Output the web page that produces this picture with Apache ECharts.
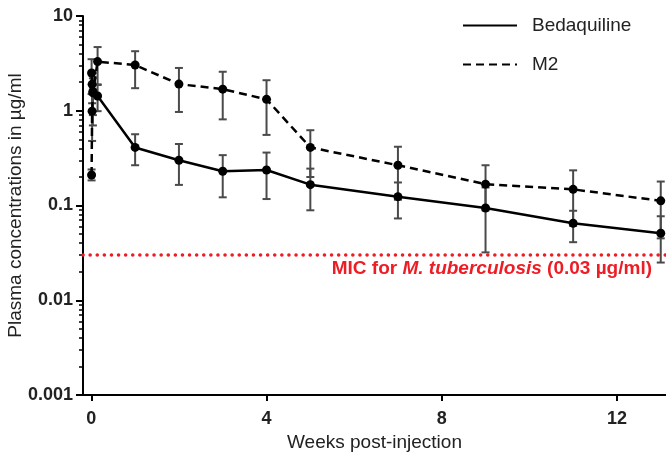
<!DOCTYPE html>
<html>
<head>
<meta charset="utf-8">
<script src="https://cdn.jsdelivr.net/npm/echarts@6/dist/echarts.min.js"></script>
<style>
html, body { margin: 0; padding: 0; background: #fff; }
#main { width: 666px; height: 456px; }
</style>
</head>
<body>
<div id="main"></div>
<script>
// sampling times in weeks (early points are hours after injection)
const weeks = [0.006, 0.018, 0.036, 0.143, 1, 2, 3, 4, 5, 7, 9, 11, 13];

const bedaquiline = [2.5, 1.9, 1.6, 1.43, 0.41, 0.30, 0.23, 0.237, 0.166, 0.124, 0.094, 0.065, 0.051];
const bedLow = [1.5, 1.2, 0.7, 0.99, 0.266, 0.165, 0.122, 0.117, 0.089, 0.073, 0.032, 0.041, 0.025];
const bedHigh = [3.5, 2.6, 2.5, 1.87, 0.565, 0.446, 0.34, 0.362, 0.245, 0.175, 0.155, 0.088, 0.077];

const m2 = [0.21, 0.99, 1.55, 3.3, 3.04, 1.91, 1.69, 1.32, 0.41, 0.266, 0.168, 0.148, 0.112];
const m2Low = [0.184, 0.48, 0.9, 1.9, 1.73, 0.971, 0.811, 0.556, 0.20, 0.115, 0.089, 0.061, 0.045];
const m2High = [0.24, 1.5, 2.2, 4.7, 4.25, 2.83, 2.58, 2.10, 0.623, 0.417, 0.266, 0.235, 0.179];

const xTicks = [0, 4, 8, 12];
const yMinorTicks = [];
[0.001, 0.01, 0.1, 1].forEach(d => {
	for (let k = 2; k <= 9; k++) yMinorTicks.push(+(k * d).toPrecision(3));
});
const micValue = 0.03;

const font = "Arial, 'Liberation Sans', Helvetica, sans-serif";

function toPairs(xs, ys) {
	return xs.map((x, i) => [x, ys[i]]);
}
function toBars(xs, lo, hi) {
	return xs.map((x, i) => [x, lo[i], hi[i]]);
}

function renderErrorBar(params, api) {
	const x = api.value(0);
	const lo = api.coord([x, api.value(1)]);
	const hi = api.coord([x, api.value(2)]);
	const w = 4;
	const style = { stroke: '#4a4a4a', lineWidth: 2, fill: null };
	return {
		type: 'group',
		children: [
			{ type: 'line', shape: { x1: lo[0], y1: lo[1], x2: hi[0], y2: hi[1] }, style: style },
			{ type: 'line', shape: { x1: lo[0] - w, y1: lo[1], x2: lo[0] + w, y2: lo[1] }, style: style },
			{ type: 'line', shape: { x1: hi[0] - w, y1: hi[1], x2: hi[0] + w, y2: hi[1] }, style: style }
		]
	};
}

var myChart = echarts.init(document.querySelector("#main"));

var option = {
	animation: false,
	textStyle: { fontFamily: font },
	grid: { left: 83, right: 0, top: 16, bottom: 61, outerBoundsMode: 'none', containLabel: false },
	legend: {
		orient: 'vertical',
		left: 457,
		top: 11,
		itemWidth: 54,
		itemHeight: 16,
		itemGap: 20,
		itemStyle: { opacity: 0 },
		textStyle: { fontSize: 19, color: '#222', padding: [0, 0, 0, 10], fontFamily: font },
		data: ['Bedaquiline', 'M2']
	},
	xAxis: {
		type: 'value',
		min: -0.19,
		max: 13.12,
		name: 'Weeks post-injection',
		nameLocation: 'middle',
		nameGap: 38,
		nameTextStyle: { fontSize: 19, color: '#222', fontFamily: font },
		axisLine: { onZero: false, lineStyle: { color: '#000', width: 2 } },
		axisTick: { length: 6, lineStyle: { color: '#000', width: 2 }, customValues: xTicks },
		axisLabel: { customValues: xTicks, fontSize: 18, fontWeight: 'bold', color: '#222', margin: 15 },
		splitLine: { show: false }
	},
	yAxis: [{
		type: 'log',
		logBase: 10,
		min: 0.001,
		max: 10,
		name: 'Plasma concentrations in µg/ml',
		nameLocation: 'middle',
		nameGap: 58,
		nameMoveOverlap: false,
		nameTextStyle: { fontSize: 19, color: '#222', fontFamily: font },
		axisLine: { show: true, onZero: false, lineStyle: { color: '#000', width: 2 } },
		axisTick: { show: true, length: 7, lineStyle: { color: '#000', width: 2 } },
		axisLabel: {
			fontSize: 18, fontWeight: 'bold', color: '#222', margin: 10,
			formatter: v => String(+v.toPrecision(3))
		},
		splitLine: { show: false }
	}, {
		type: 'log',
		logBase: 10,
		min: 0.001,
		max: 10,
		position: 'left',
		offset: 0,
		axisLine: { show: false, onZero: false },
		axisTick: { show: true, length: 4, lineStyle: { color: '#000', width: 1.5 }, customValues: yMinorTicks },
		axisLabel: { show: false },
		splitLine: { show: false }
	}],
	series: [{
		name: 'Bedaquiline',
		type: 'line',
		data: toPairs(weeks, bedaquiline),
		symbol: 'circle',
		symbolSize: 9,
		itemStyle: { color: '#000' },
		lineStyle: { color: '#000', width: 2.5 },
		z: 3,
		markLine: {
			silent: true,
			symbol: 'none',
			lineStyle: { color: '#ee1c25', width: 3.5, type: [0.1, 7], cap: 'round' },
			label: {
				show: true,
				position: 'insideEndBottom',
				distance: [14, 4],
				formatter: 'MIC for {i|M. tuberculosis} (0.03 µg/ml)',
				color: '#ee1c25',
				fontSize: 19,
				fontWeight: 'bold',
				fontFamily: font,
				rich: {
					i: { fontStyle: 'italic', fontWeight: 'bold', fontSize: 19, color: '#ee1c25', fontFamily: font }
				}
			},
			data: [{ yAxis: micValue }]
		}
	}, {
		name: 'M2',
		type: 'line',
		data: toPairs(weeks, m2),
		symbol: 'circle',
		symbolSize: 9,
		itemStyle: { color: '#000' },
		lineStyle: { color: '#000', width: 2.5, type: [8, 5] },
		z: 3
	}, {
		type: 'custom',
		renderItem: renderErrorBar,
		data: toBars(weeks, bedLow, bedHigh),
		encode: { x: 0, y: [1, 2] },
		clip: false,
		z: 2
	}, {
		type: 'custom',
		renderItem: renderErrorBar,
		data: toBars(weeks, m2Low, m2High),
		encode: { x: 0, y: [1, 2] },
		clip: false,
		z: 2
	}]
};

myChart.setOption(option);
</script>
</body>
</html>
